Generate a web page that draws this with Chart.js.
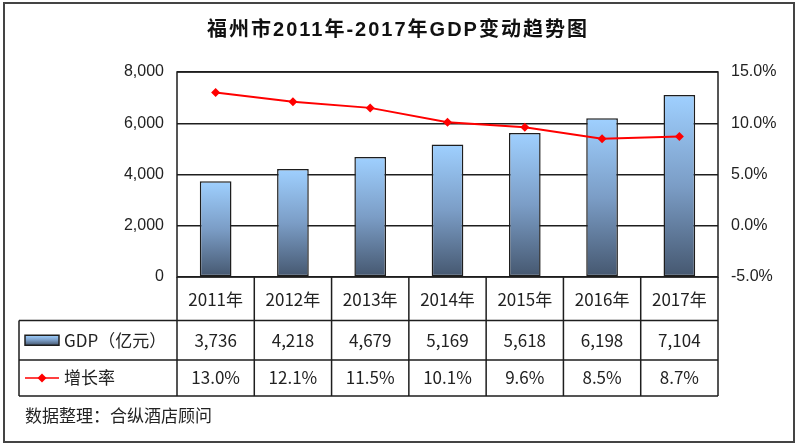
<!DOCTYPE html>
<html lang="zh-CN">
<head>
<meta charset="UTF-8">
<title>福州市2011年-2017年GDP变动趋势图</title>
<script src="https://cdn.jsdelivr.net/npm/chart.js"></script>
<style>
  html, body { margin: 0; padding: 0; background: #fff; }
  #wrap { width: 800px; height: 447px; }
</style>
</head>
<body>
<div id="wrap"><canvas id="gdp-chart" width="800" height="447"></canvas></div>
<script>
  // data
  const years = ['2011年', '2012年', '2013年', '2014年', '2015年', '2016年', '2017年'];
  const gdp = [3736, 4218, 4679, 5169, 5618, 6198, 7104];     // 亿元
  const growth = [13.0, 12.1, 11.5, 10.1, 9.6, 8.5, 8.7];     // %
  const gdpRange = [0, 8000, 2000];       // min, max, step
  const rateRange = [-5, 15, 5];

  const titleText = '福州市2011年-2017年GDP变动趋势图';
  const gdpLabel = 'GDP（亿元）';
  const rateLabel = '增长率';
  const sourceText = '数据整理：合纵酒店顾问';

  const CJK = '"Noto Sans CJK SC", "Noto Sans", sans-serif';
  const LINE = '#1e1e1e';

  Chart.defaults.font.family = '"Liberation Sans", Arial, sans-serif';
  Chart.defaults.color = '#222';

  function barGradient(ctx, top, bottom) {
    const g = ctx.createLinearGradient(0, top, 0, bottom);
    g.addColorStop(0, '#9fd0ff');
    g.addColorStop(0.5, '#7b9dc6');
    g.addColorStop(1, '#45576f');
    return g;
  }

  // title, data table, legend keys, source note and frame
  const tablePlugin = {
    id: 'tablePlugin',
    afterDraw(chart) {
      const ctx = chart.ctx;
      const x = chart.scales.x;
      const area = chart.chartArea;
      const n = years.length;
      const cw = (x.right - x.left) / n;
      const rowTop = area.bottom + 43.5;
      const rowMid = rowTop + 39.5;
      const rowEnd = rowMid + 36;
      const tableLeft = 19;

      ctx.save();

      // plot frame
      ctx.strokeStyle = LINE;
      ctx.lineWidth = 1.5;
      ctx.strokeRect(area.left, area.top, area.right - area.left, area.bottom - area.top);

      // table grid
      ctx.beginPath();
      for (let i = 0; i <= n; i++) {
        const px = x.left + i * cw;
        ctx.moveTo(px, area.bottom);
        ctx.lineTo(px, rowEnd);
      }
      ctx.moveTo(tableLeft, rowTop);
      ctx.lineTo(tableLeft, rowEnd);
      [rowTop, rowMid, rowEnd].forEach(py => {
        ctx.moveTo(tableLeft, py);
        ctx.lineTo(x.right, py);
      });
      ctx.stroke();

      // table values
      ctx.fillStyle = '#222';
      ctx.font = '17px ' + CJK;
      ctx.textAlign = 'center';
      ctx.textBaseline = 'middle';
      for (let i = 0; i < n; i++) {
        const px = x.getPixelForValue(i);
        ctx.fillText(gdp[i].toLocaleString('en-US'), px, (rowTop + rowMid) / 2);
        ctx.fillText(growth[i].toFixed(1) + '%', px, (rowMid + rowEnd) / 2);
      }

      // legend keys
      const y1 = (rowTop + rowMid) / 2;
      ctx.fillStyle = barGradient(ctx, y1 - 5, y1 + 5);
      ctx.fillRect(25, y1 - 5, 34, 10);
      ctx.lineWidth = 1.5;
      ctx.strokeRect(25, y1 - 5, 34, 10);

      const y2 = (rowMid + rowEnd) / 2;
      ctx.strokeStyle = '#ff0000';
      ctx.lineWidth = 1.5;
      ctx.beginPath();
      ctx.moveTo(25, y2);
      ctx.lineTo(59, y2);
      ctx.stroke();
      ctx.fillStyle = '#ff0000';
      ctx.beginPath();
      ctx.moveTo(42, y2 - 4.5);
      ctx.lineTo(46.5, y2);
      ctx.lineTo(42, y2 + 4.5);
      ctx.lineTo(37.5, y2);
      ctx.closePath();
      ctx.fill();

      ctx.fillStyle = '#222';
      ctx.textAlign = 'left';
      ctx.fillText(gdpLabel, 64, y1);
      ctx.fillText(rateLabel, 64, y2);

      // source note
      ctx.fillText(sourceText, 25, rowEnd + 20);

      // title: Arial-like bold digits, CJK falls back
      ctx.font = 'bold 20px "Liberation Sans", ' + CJK;
      ctx.textAlign = 'center';
      ctx.letterSpacing = '2px';
      ctx.fillStyle = '#111';
      ctx.fillText(titleText, 398, 30);
      ctx.letterSpacing = '0px';

      // outer frame
      ctx.strokeStyle = '#444';
      ctx.lineWidth = 2;
      ctx.strokeRect(4, 3, 790, 439);

      ctx.restore();
    }
  };

  new Chart(document.getElementById('gdp-chart'), {
    data: {
      labels: years,
      datasets: [
        {
          type: 'line',
          label: rateLabel,
          data: growth,
          yAxisID: 'y1',
          order: 0,
          borderColor: '#ff0000',
          borderWidth: 2,
          backgroundColor: '#ff0000',
          pointStyle: 'rectRot',
          pointRadius: 4.5,
          pointBorderWidth: 0,
          tension: 0
        },
        {
          type: 'bar',
          label: gdpLabel,
          data: gdp,
          yAxisID: 'y',
          order: 1,
          categoryPercentage: 1,
          barPercentage: 0.41,
          borderColor: LINE,
          borderWidth: 1.5,
          borderSkipped: false,
          backgroundColor(c) {
            const s = c.chart.scales.y;
            if (!s || c.raw === undefined) return '#7b9dc6';
            const top = s.getPixelForValue(c.raw);
            const bottom = s.getPixelForValue(0);
            if (!isFinite(top) || !isFinite(bottom) || top === bottom) return '#7b9dc6';
            return barGradient(c.chart.ctx, top, bottom);
          }
        }
      ]
    },
    options: {
      responsive: false,
      animation: false,
      layout: { padding: { top: 72, left: 0, right: 0, bottom: 0 } },
      plugins: { legend: { display: false }, tooltip: { enabled: false }, title: { display: false } },
      scales: {
        x: {
          grid: { display: false, drawTicks: false },
          border: { display: false },
          ticks: { font: { size: 17, family: CJK }, color: '#222', padding: 12, maxRotation: 0, autoSkip: false },
          afterFit(s) { s.height = 170; }
        },
        y: {
          position: 'left',
          min: gdpRange[0], max: gdpRange[1],
          grid: { color: LINE, lineWidth: 1.5, drawTicks: false },
          border: { display: false },
          ticks: { stepSize: gdpRange[2], font: { size: 16 }, padding: 13,
                   callback: v => v.toLocaleString('en-US') },
          afterFit(s) { s.width = 177; }
        },
        y1: {
          position: 'right',
          min: rateRange[0], max: rateRange[1],
          grid: { display: false, drawTicks: false },
          border: { display: false },
          ticks: { stepSize: rateRange[2], font: { size: 16 }, padding: 13,
                   callback: v => v.toFixed(1) + '%' },
          afterFit(s) { s.width = 82; }
        }
      }
    },
    plugins: [tablePlugin]
  });
</script>
</body>
</html>
